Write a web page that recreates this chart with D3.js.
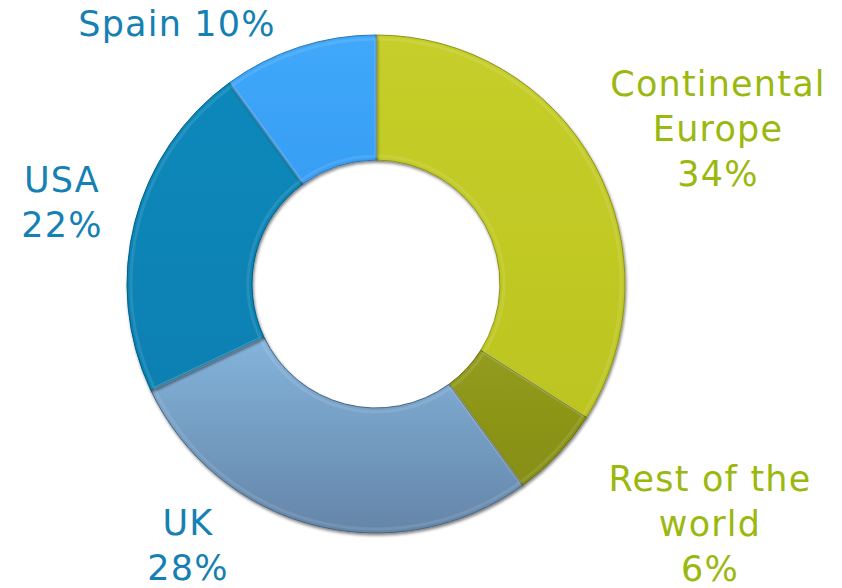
<!DOCTYPE html>
<html>
<head>
<meta charset="utf-8">
<script src="https://cdn.jsdelivr.net/npm/d3@7"></script>
<style>
  html, body { margin: 0; padding: 0; background: #ffffff; }
  svg { display: block; }
</style>
</head>
<body>
<div id="chart"></div>
<script>
// Data (clockwise from 12 o'clock)
const categories = ["Continental Europe", "Rest of the world", "UK", "USA", "Spain"];
const shares = [34, 6, 28, 22, 10];
const labelLines = [["Continental", "Europe", "34%"], ["Rest of the", "world", "6%"], ["UK", "28%"], ["USA", "22%"], ["Spain 10%"]];
const sliceColors = [
  ["#c6ce2a", "#bcc51f"],
  ["#939c1c", "#868e14"],
  ["#84b4dc", "#6485a8"],
  ["#0a88ba", "#0780b2"],
  ["#40a8fa", "#379ef4"]
];
const labelColors = ["#9ab80e", "#9ab80e", "#1480b4", "#1480b4", "#1480b4"];
const labelPos = [[718, 84], [710, 479], [188, 523], [62, 180], [177, 24]];

const W = 842, H = 588;
const cx = 376, cy = 284, R = 249, r = 124;

const svg = d3.select("#chart").append("svg").attr("width", W).attr("height", H);
const defs = svg.append("defs");

const data = categories.map((c, i) => ({ name: c, value: shares[i], i }));

sliceColors.forEach((c, i) => {
  const g = defs.append("linearGradient").attr("id", "g" + i)
    .attr("x1", "0").attr("y1", "0").attr("x2", "0").attr("y2", "1");
  g.append("stop").attr("offset", "0%").attr("stop-color", c[0]);
  g.append("stop").attr("offset", "100%").attr("stop-color", c[1]);
});

const shadow = defs.append("filter").attr("id", "shadow")
  .attr("x", "-10%").attr("y", "-10%").attr("width", "120%").attr("height", "120%");
shadow.append("feGaussianBlur").attr("in", "SourceAlpha").attr("stdDeviation", 1.5).attr("result", "b");
shadow.append("feOffset").attr("in", "b").attr("dx", 1).attr("dy", 2).attr("result", "o");
shadow.append("feComponentTransfer").attr("in", "o").attr("result", "o2")
  .append("feFuncA").attr("type", "linear").attr("slope", 0.5);
const m = shadow.append("feMerge");
m.append("feMergeNode").attr("in", "o2");
m.append("feMergeNode").attr("in", "SourceGraphic");

const pie = d3.pie().value(d => d.value).sort(null);
const arcs = pie(data);
const arc = d3.arc().innerRadius(r).outerRadius(R);
const innerArc = d3.arc().innerRadius(r + 4).outerRadius(R - 4);

const g = svg.append("g").attr("transform", `translate(${cx},${cy})`);

g.selectAll("path.slice").data(arcs).enter().append("path")
  .attr("class", "slice")
  .attr("d", arc)
  .attr("fill", d => `url(#g${d.data.i})`)
  .attr("stroke", d => d3.color(sliceColors[d.data.i][1]).darker(0.8))
  .attr("stroke-width", 1)
  .attr("filter", "url(#shadow)");

// bevel highlight
g.selectAll("path.bevel").data(arcs).enter().append("path")
  .attr("class", "bevel")
  .attr("d", innerArc)
  .attr("fill", "none")
  .attr("stroke", "#ffffff")
  .attr("stroke-opacity", 0.1)
  .attr("stroke-width", 3);

// labels
const lab = svg.selectAll("text.lab").data(data).enter().append("text")
  .attr("class", "lab")
  .attr("x", d => labelPos[d.i][0])
  .attr("y", d => labelPos[d.i][1])
  .attr("text-anchor", "middle")
  .attr("fill", d => labelColors[d.i])
  .style("font-family", "'DejaVu Sans', Verdana, sans-serif")
  .style("font-size", "35px")
  .style("letter-spacing", "1.2px");

lab.each(function(d) {
  const t = d3.select(this);
  labelLines[d.i].forEach((line, k) => {
    t.append("tspan").attr("x", labelPos[d.i][0]).attr("dy", k === 0 ? "0.35em" : 45).text(line);
  });
});
</script>
</body>
</html>
